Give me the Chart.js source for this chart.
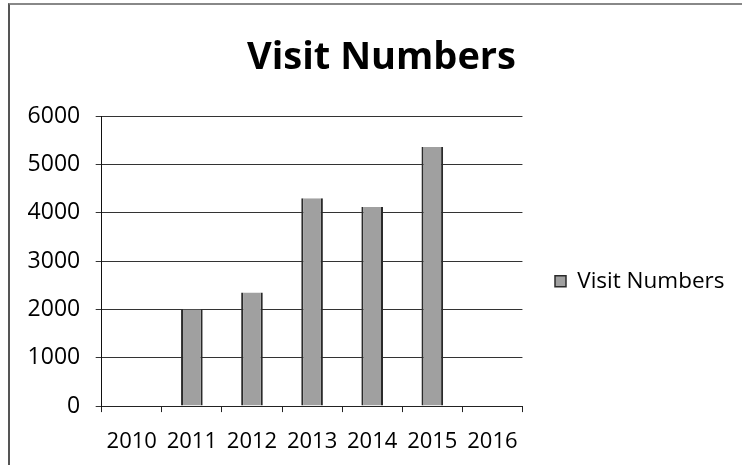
<!DOCTYPE html>
<html>
<head>
<meta charset="utf-8">
<script src="https://cdn.jsdelivr.net/npm/chart.js@4/dist/chart.umd.min.js"></script>
<style>
html,body{margin:0;padding:0;background:#fff;}
#wrap{position:absolute;left:0;top:0;width:742px;height:465px;}
#frame{position:absolute;left:8px;top:3px;width:760px;height:480px;border-left:2px solid #555;border-top:2px solid #888;box-sizing:border-box;pointer-events:none;}
canvas{position:absolute;left:0;top:0;}
</style>
</head>
<body>
<div id="wrap"><canvas id="c" width="742" height="465"></canvas><div id="frame"></div></div>
<script>
const categories = ['2010','2011','2012','2013','2014','2015','2016'];
const seriesName = 'Visit Numbers';
const visitNumbers = [0, 2000, 2350, 4300, 4120, 5360, 0];
const yTicks = [0, 1000, 2000, 3000, 4000, 5000, 6000];

const FONT = '"Open Sans"';

const placeBlocks = {
  id: 'placeBlocks',
  afterLayout(chart) {
    const lg = chart.legend;
    if (lg) {
      lg.left = 545; lg.right = 742; lg.width = 197;
      lg.top += 46; lg.bottom += 46;
    }
    const tb = chart.titleBlock;
    if (tb) { tb.left = 21; tb.right = 742; tb.width = 721; }
  }
};

function draw() {
  new Chart(document.getElementById('c'), {
    type: 'bar',
    data: {
      labels: categories,
      datasets: [{
        label: seriesName,
        data: visitNumbers,
        backgroundColor: '#a0a0a0',
        borderColor: '#2a2a2a',
        borderWidth: { left: 2, right: 2, top: 0, bottom: 0 },
        barPercentage: 0.72,
        categoryPercentage: 0.5
      }]
    },
    options: {
      responsive: false,
      animation: false,
      layout: { padding: { left: 0, top: 0, right: 45.4, bottom: -5.5 } },
      plugins: {
        title: {
          display: true,
          text: 'Visit Numbers',
          color: '#000',
          font: { family: FONT, size: 38, weight: 'bold' },
          padding: { top: 35, bottom: 35.4 }
        },
        legend: {
          position: 'right',
          labels: {
            color: '#000',
            font: { family: FONT, size: 22.5 },
            boxWidth: 11, boxHeight: 11, padding: 10,
            generateLabels(chart) {
              const ds = chart.data.datasets[0];
              return [{ text: ds.label, fillStyle: '#a0a0a0', strokeStyle: '#2a2a2a', lineWidth: 1.5, datasetIndex: 0 }];
            }
          }
        },
        tooltip: { enabled: false }
      },
      scales: {
        x: {
          offset: true,
          grid: { display: true, offset: true, drawOnChartArea: false, drawTicks: true, tickLength: 6, color: '#222' },
          border: { display: true, color: '#222', width: 1 },
          ticks: { color: '#000', font: { family: FONT, size: 22 }, padding: 16, maxRotation: 0 }
        },
        y: {
          min: 0, max: 6000,
          afterBuildTicks(scale) { scale.ticks = yTicks.map(v => ({ value: v })); },
          afterFit(scale) { scale.width = 101.7; },
          grid: { color: '#333', tickLength: 6, drawTicks: true },
          border: { display: true, color: '#111', width: 1 },
          ticks: { color: '#000', font: { family: FONT, size: 23 }, padding: 15.5, callback: v => String(v) }
        }
      }
    },
    plugins: [placeBlocks]
  });
}

Promise.all([
  document.fonts.load('22px "Open Sans"'),
  document.fonts.load('bold 38px "Open Sans"')
]).then(draw, draw);
</script>
</body>
</html>
